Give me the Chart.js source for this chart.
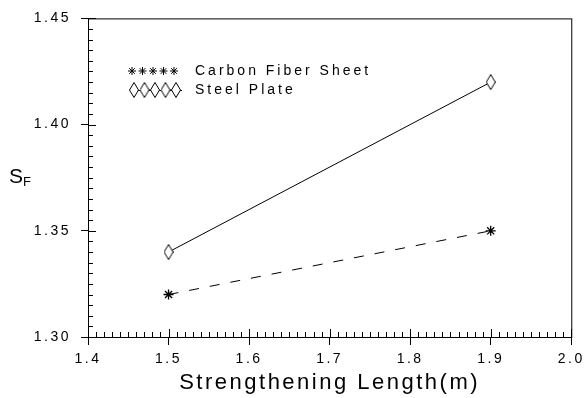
<!DOCTYPE html>
<html>
<head>
<meta charset="utf-8">
<script src="https://cdn.jsdelivr.net/npm/chart.js@4/dist/chart.umd.min.js"></script>
<style>
  html, body { margin: 0; padding: 0; background: #fff; }
  #wrap { width: 587px; height: 398px; }
</style>
</head>
<body>
<div id="wrap"><canvas id="chart" width="587" height="398"></canvas></div>
<script>
// data
const lengths = [1.5, 1.9];
const carbonSF = [1.32, 1.35];
const steelSF = [1.34, 1.42];
const seriesNames = ['Carbon Fiber Sheet', 'Steel Plate'];
const xTitle = 'Strengthening Length(m)';
const xMin = 1.4, xMax = 2.0, xStep = 0.1;
const yMin = 1.30, yMax = 1.45, yStep = 0.05;

const FONT = 'Liberation Sans';

// tall thin diamond marker
function diamondMarker() {
  const c = document.createElement('canvas');
  c.width = 10; c.height = 16;
  const g = c.getContext('2d');
  g.strokeStyle = '#000';
  g.lineWidth = 1;
  g.beginPath();
  g.moveTo(5, 0.5); g.lineTo(9.5, 8); g.lineTo(5, 15.5); g.lineTo(0.5, 8); g.closePath();
  g.fillStyle = '#fff';
  g.fill();
  g.stroke();
  return c;
}
const diamond = diamondMarker();

function drawStar(ctx, x, y, r) {
  ctx.beginPath();
  for (let i = 0; i < 4; i++) {
    const a = i * Math.PI / 4;
    ctx.moveTo(x - r * Math.cos(a), y - r * Math.sin(a));
    ctx.lineTo(x + r * Math.cos(a), y + r * Math.sin(a));
  }
  ctx.stroke();
}

// wide lettering like the plotter font
const spacing = {
  id: 'spacing',
  beforeDraw(chart) { chart.ctx.letterSpacing = '2.5px'; }
};

// frame, inward minor ticks, legend and y title
const decor = {
  id: 'decor',
  afterDraw(chart) {
    const ctx = chart.ctx;
    const a = chart.chartArea;
    const xs = chart.scales.x, ys = chart.scales.y;
    ctx.save();
    ctx.strokeStyle = '#000';
    ctx.lineWidth = 1;
    ctx.strokeRect(a.left + 0.5, a.top + 0.5, a.right - a.left, a.bottom - a.top);

    ctx.beginPath();
    for (let i = 0; i <= 60; i++) {
      const px = Math.round(xs.getPixelForValue(xMin + i * 0.01)) + 0.5;
      const len = i % 10 === 0 ? 8 : 5;
      ctx.moveTo(px, a.bottom);
      ctx.lineTo(px, a.bottom - len);
    }
    for (let i = 0; i <= 30; i++) {
      const py = Math.round(ys.getPixelForValue(yMin + i * 0.005)) + 0.5;
      const len = i % 10 === 0 ? 8 : 5;
      ctx.moveTo(a.left, py);
      ctx.lineTo(a.left + len, py);
    }
    ctx.stroke();

    // legend
    ctx.fillStyle = '#000';
    ctx.letterSpacing = '3px';
    ctx.font = '14px "' + FONT + '"';
    ctx.textBaseline = 'middle';
    for (let i = 0; i < 5; i++) drawStar(ctx, 132 + i * 10.5, 71, 4);
    ctx.fillText(seriesNames[0], 195, 71);
    ctx.beginPath();
    ctx.moveTo(130, 90.5); ctx.lineTo(182, 90.5); ctx.stroke();
    for (let i = 0; i < 5; i++) ctx.drawImage(diamond, 129 + i * 10.5, 82);
    ctx.fillText(seriesNames[1], 195, 90);

    // y title S_F
    ctx.letterSpacing = '0px';
    ctx.textBaseline = 'alphabetic';
    ctx.font = '21px "' + FONT + '"';
    ctx.fillText('S', 9, 183);
    ctx.font = '13px "' + FONT + '"';
    ctx.fillText('F', 23, 186);
    ctx.restore();
  }
};

const axisColor = '#000';

new Chart(document.getElementById('chart').getContext('2d'), {
  type: 'line',
  data: {
    datasets: [
      {
        label: seriesNames[0],
        data: lengths.map((x, i) => ({ x: x, y: carbonSF[i] })),
        borderColor: '#000',
        borderWidth: 1,
        borderDash: [10, 11],
        pointStyle: 'star',
        pointRadius: 5,
        pointBorderWidth: 1.3,
        pointBorderColor: '#000',
        fill: false
      },
      {
        label: seriesNames[1],
        data: lengths.map((x, i) => ({ x: x, y: steelSF[i] })),
        borderColor: '#000',
        borderWidth: 1,
        pointStyle: diamond,
        fill: false
      }
    ]
  },
  options: {
    responsive: false,
    animation: false,
    layout: { padding: { left: 0, top: 15, right: 13, bottom: 0 } },
    plugins: { legend: { display: false }, tooltip: { enabled: false } },
    scales: {
      x: {
        type: 'linear',
        min: xMin, max: xMax,
        afterFit(s) { s.height = 61; },
        ticks: {
          stepSize: xStep,
          color: '#000',
          padding: 6,
          font: { family: FONT, size: 14 },
          callback: v => v.toFixed(1)
        },
        grid: { drawOnChartArea: false, color: axisColor, tickLength: 8 },
        border: { color: axisColor },
        title: {
          display: true, text: xTitle, color: '#000',
          font: { family: FONT, size: 22 },
          padding: { top: 0, bottom: 2 }
        }
      },
      y: {
        min: yMin, max: yMax,
        afterFit(s) { s.width = 88; },
        ticks: {
          stepSize: yStep,
          color: '#000',
          padding: 10,
          font: { family: FONT, size: 14 },
          callback: v => v.toFixed(2)
        },
        grid: { drawOnChartArea: false, color: axisColor, tickLength: 7 },
        border: { color: axisColor }
      }
    }
  },
  plugins: [spacing, decor]
});
</script>
</body>
</html>
